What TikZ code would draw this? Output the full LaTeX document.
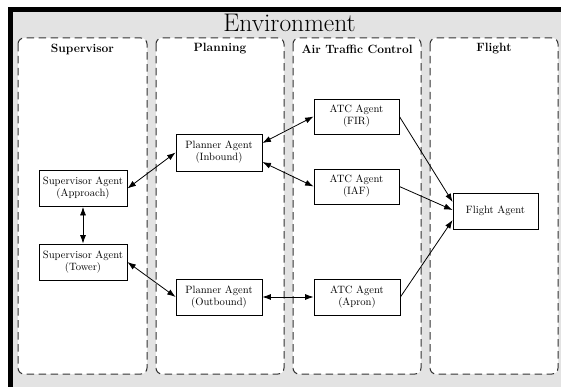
\documentclass[tikz,border=0pt]{standalone}
\usetikzlibrary{arrows.meta}
\begin{document}
\begin{tikzpicture}[x=1pt,y=-1pt,
  lane/.style={draw=black!80, fill=white, dashed, dash pattern=on 7.5pt off 4.5pt,
    line width=1pt, rounded corners=6pt},
  lanehead/.style={font=\fontsize{12}{13}\selectfont\bfseries, anchor=center},
  agent/.style={draw=black, fill=white, line width=0.8pt, align=center,
    font=\fontsize{10.6}{12}\selectfont, inner sep=1pt},
  link/.style={line width=0.8pt, {Latex[length=8.5pt,width=6pt]}-{Latex[length=8.5pt,width=6pt]}},
  oneway/.style={line width=0.8pt, -{Latex[length=8.5pt,width=6pt]}}]
\useasboundingbox (0,0) rectangle (561,387);
% environment frame: heavy edge on top and left, grey field inside
\fill[black] (8,7) rectangle (561,387);
\fill[black!11] (13,12) rectangle (561,387);
\node (env) at (289.5,23) {\fontsize{25.5}{27}\selectfont Environment};

% swim lanes
\draw[lane] (18,38) rectangle (147,374);
\draw[lane] (156,38) rectangle (284,374);
\draw[lane] (293,38) rectangle (421,374);
\draw[lane] (430,38) rectangle (558,374);
\node[lanehead] (hsup) at (82.5,49) {Supervisor};
\node[lanehead] (hplan) at (220,49) {Planning};
\node[lanehead] (hatc) at (357,49) {Air Traffic Control};
\node[lanehead] (hfl) at (494,49) {Flight};

% agents
\node[agent, minimum width=88pt, minimum height=36pt] (approach) at (83,188.5) {Supervisor Agent\\(Approach)};
\node[agent, minimum width=88pt, minimum height=36pt] (tower) at (83,262) {Supervisor Agent\\(Tower)};
\node[agent, minimum width=86pt, minimum height=37pt] (inbound) at (219,152.5) {Planner Agent\\(Inbound)};
\node[agent, minimum width=86pt, minimum height=36pt] (outbound) at (219,297) {Planner Agent\\(Outbound)};
\node[agent, minimum width=85pt, minimum height=35pt] (fir) at (356.5,116.5) {ATC Agent\\(FIR)};
\node[agent, minimum width=85pt, minimum height=35pt] (iaf) at (356.5,186.5) {ATC Agent\\(IAF)};
\node[agent, minimum width=86pt, minimum height=36pt] (apron) at (357,297) {ATC Agent\\(Apron)};
\node[agent, minimum width=85pt, minimum height=36pt] (flight) at (495.5,211) {Flight Agent};

% interactions (yshift is in page units: positive moves up)
\draw[link] (approach.east) -- (inbound.west);
\draw[link] (approach.south) -- (tower.north);
\draw[link] (tower.east) -- (outbound.west);
\draw[link] ([yshift=9.5pt]inbound.east) -- (fir.west);
\draw[link] ([yshift=-9.5pt]inbound.east) -- (iaf.west);
\draw[link] (outbound.east) -- (apron.west);
\draw[oneway] (fir.east) -- ([yshift=9pt]flight.west);
\draw[oneway] (iaf.east) -- ([yshift=1pt]flight.west);
\draw[oneway] (apron.east) -- ([yshift=-9pt]flight.west);
\end{tikzpicture}
\end{document}
